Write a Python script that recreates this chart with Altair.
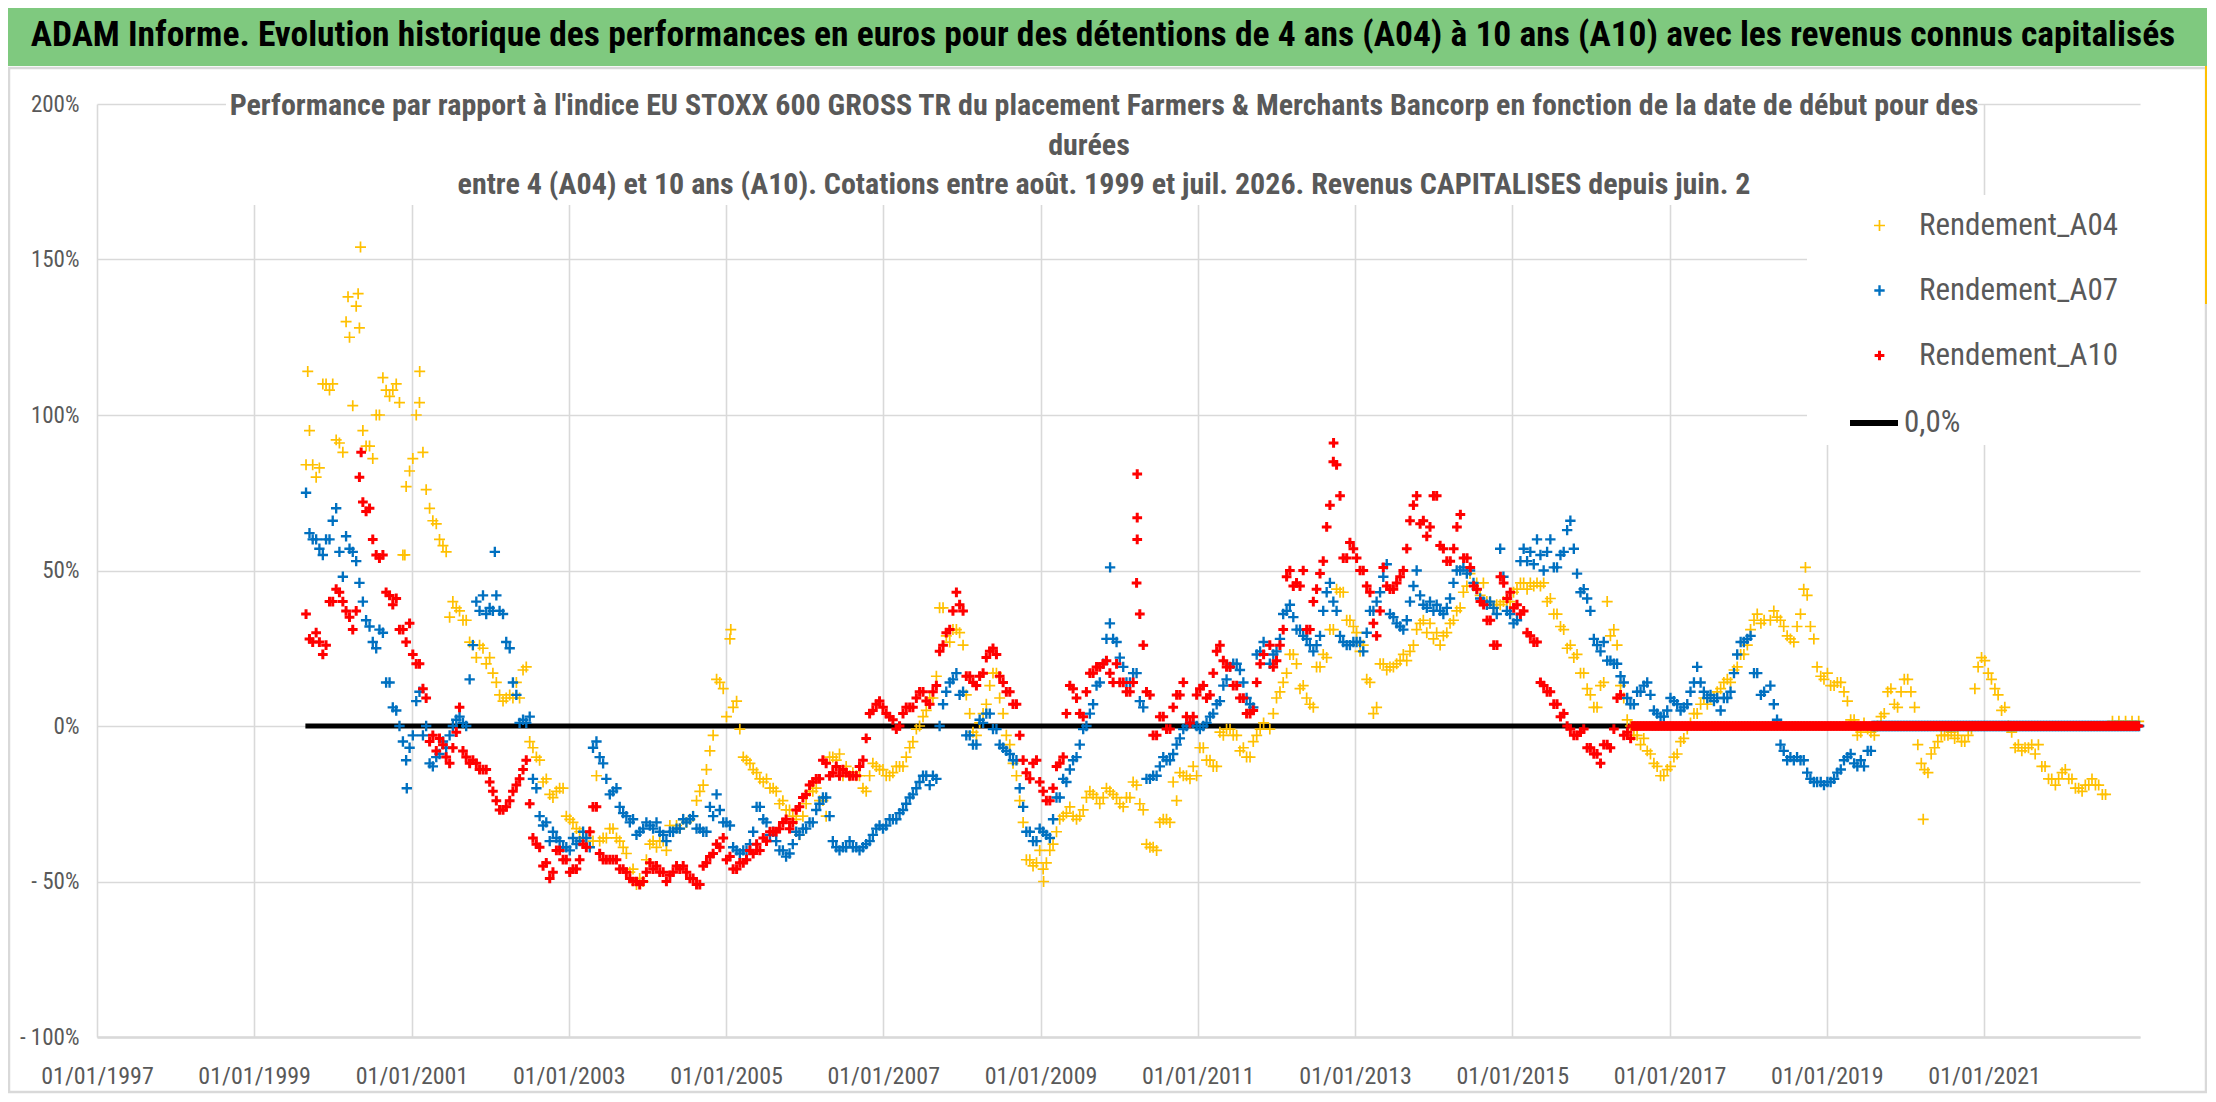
import altair as alt
import pandas as pd
import numpy as np

FONT = "'Liberation Sans Narrow', 'Roboto Condensed', 'Arial Narrow', Lato, sans-serif"
GRAY = "#595959"
GRID = "#D9D9D9"

NAMES = ["Rendement_A04", "Rendement_A07", "Rendement_A10"]
COLORS = ["#FFC000", "#0070C0", "#FF0000"]

# ---- values (in %) ----
# segment 1 : 1999-08-30 -> 2005-08-08
A04_S1 = [84, 84, 83, 110, 110, 91, 130, 103, 128, 90, 86, 100, 108, 108, 104, 77, 86, 104, 76, 66,
          60, 56, 40, 37, 34, 26, 26, 20, 17, 10, 9, 9, 9, 19, -7, -11, -17, -23, -20, -29,
          -31, -34, -36, -37, -37, -36, -33, -37, -41, -46, -49, -43, -37, -37, -40, -34, -33, -31, -29, -21,
          -14, -3, 14, 3, 6, -1, -11, -14, -17, -17, -20]
A07_S1 = [75, 60, 57, 60, 66, 56, 61, 56, 46, 34, 27, 31, 14, 6, 0, -11, -3, 11, 0, -13,
          -9, -7, 0, 3, 0, 26, 37, 36, 37, 37, 27, 14, 1, 1, -17, -29, -31, -34, -37, -39,
          -36, -37, -36, -7, -10, -17, -21, -26, -29, -30, -34, -31, -33, -34, -37, -34, -33, -31, -29, -33,
          -34, -29, -27, -31, -39, -41, -40, -34, -26, -31, -34]
A10_S1 = [36, 27, 27, 26, 40, 43, 37, 31, 80, 69, 60, 54, 43, 39, 31, 27, 23, 20, 9, -3,
          -4, -10, -7, 6, -10, -11, -14, -14, -21, -27, -26, -21, -17, -11, -36, -39, -44, -47, -40, -43,
          -46, -43, -39, -26, -41, -43, -43, -46, -47, -50, -51, -47, -46, -47, -50, -47, -46, -47, -49, -51,
          -44, -41, -39, -43, -46, -44, -43, -41, -40, -37, -34]
# segment 1, in-between readings : 1999-09-15 -> 2005-07-24
A04_S1M = [95, 80, 110, 108, 92, 88, 125, 135, 95, 90, 100, 112, 106, 110, 55, 82, 100, 88, 70, 65,
           58, 35, 38, 34, 27, 22, 25, 22, 14, 8, 10, 14, 18, -5, -10, -18, -22, -21, -20, -30,
           -33, -36, -34, -16, -36, -33, -36, -39, -47, -51, -50, -38, -39, -37, -32, -32, -30, -30, -24, -19,
           -8, 15, 12, 28, 8, -10, -12, -15, -18, -20]
A07_S1M = [62, 60, 55, 60, 70, 48, 57, 53, 40, 32, 25, 30, 14, 5, -5, -7, 8, -3, -12, -10,
           -5, -3, 2, 1, 15, 40, 42, 38, 42, 36, 25, 10, 2, 3, -20, -32, -37, -36, -39, -40,
           -38, -34, -39, -5, -12, -22, -20, -28, -31, -35, -33, -32, -31, -35, -34, -33, -30, -30, -33, -34,
           -26, -22, -31, -32, -40, -40, -38, -26, -30, -35]
A10_S1M = [28, 30, 23, 40, 44, 40, 35, 37, 72, 70, 55, 55, 42, 41, 31, 33, 20, 12, -5, -8,
           -6, -12, -2, -8, -12, -12, -14, -18, -24, -27, -24, -19, -14, -25, -38, -45, -49, -40, -43, -47,
           -46, -38, -34, -26, -43, -43, -43, -46, -49, -50, -50, -44, -45, -47, -48, -45, -45, -49, -51, -45,
           -42, -38, -36, -42, -46, -44, -40, -38, -36, -34]
# segment 2 : 2005-08-22 -> 2011-11-03
A04_S2 = [-21, -24, -27, -30, -29, -21, -20, -24, -10, -11, -16, -16, -16, -20, -16, -13, -14, -16, -13, -13,
          -7, -1, 3, 9, 16, 38, 27, 31, 26, 4, -3, 4, 13, 17, 4, -6, -16, -31, -43, -44,
          -46, -40, -34, -29, -26, -30, -27, -21, -23, -23, -21, -23, -26, -23, -19, -27, -39, -40, -30, -31,
          -24, -16, -17, -16, -7, -11, -13, -3, -1, -3, -7, -10, -3, 1]
A07_S2 = [-37, -40, -41, -34, -33, -31, -27, -23, -29, -39, -39, -37, -39, -39, -37, -33, -33, -30, -30, -27,
          -23, -20, -16, -19, -17, 7, 14, 17, 11, -3, -6, 1, 4, -1, -7, -9, -11, -26, -34, -37,
          -34, -36, -23, -17, -14, -10, -1, 4, 13, 20, 33, 27, 19, 14, 17, 6, -17, -16, -10, -11,
          -6, -1, 1, 0, 0, 3, 7, 13, 19, 20, 14, 7, 23, 27]
A10_S2 = [-34, -31, -33, -27, -23, -19, -17, -11, -16, -13, -14, -16, -16, -11, 4, 7, 6, 3, -1, 4,
          6, 9, 11, 7, 13, 26, 31, 43, 37, 16, 13, 17, 24, 23, 14, 11, 7, -11, -17, -11,
          -21, -24, -13, -10, 13, 9, 3, 17, 19, 20, 17, 20, 14, 11, 46, 26, 10, -3, 3, -1,
          10, 14, 1, 10, 13, 10, 24, 21, 19, 13, 9, 4, 14, 23]
# segment 2, in-between readings : 2005-09-06 -> 2011-10-18
A04_S2M = [-25, -27, -29, -35, -25, -21, -24, -29, -10, -9, -13, -15, -16, -21, -12, -14, -16, -15, -13, -10,
           -5, 0, 5, 9, 38, 29, 31, 30, 10, -2, 1, 7, 17, 9, -3, -12, -24, -43, -45, -40,
           -44, -38, -30, -28, -29, -29, -23, -22, -25, -20, -22, -25, -23, -18, -25, -38, -39, -31, -30, -18,
           -15, -16, -13, -7, -11, -13, -2, -1, -3, -8, -10, -5, -1]
A07_S2M = [-40, -42, -38, -35, -33, -31, -25, -23, -37, -40, -39, -39, -40, -38, -35, -32, -32, -30, -28, -25,
           -22, -18, -16, -16, 0, 11, 15, 10, -3, -6, 2, 4, -1, -6, -8, -11, -20, -34, -37, -33,
           -35, -30, -23, -18, -11, -6, 0, 7, 14, 28, 28, 22, 14, 17, 8, -17, -16, -13, -11, -9,
           -4, 0, 1, -1, 1, 4, 8, 15, 20, 18, 9, 6, 24]
A10_S2M = [-33, -30, -31, -26, -22, -18, -17, -12, -15, -16, -15, -16, -13, -4, 5, 8, 4, 2, 0, 6,
           6, 11, 8, 11, 24, 30, 37, 39, 16, 14, 16, 22, 25, 16, 11, 7, -3, -15, -12, -18,
           -24, -20, -12, 4, 12, 4, 11, 17, 19, 21, 14, 14, 11, 14, 36, 11, -3, 3, -1, 6,
           10, 3, 3, 12, 9, 17, 26, 19, 13, 9, 4, 5, 20]
# segment 3 : 2011-12-02 -> 2018-03-16 (A10 stops 2016-07-04)
A04_S3 = [-1, 9, 14, 23, 20, 13, 7, 19, 23, 31, 44, 43, 34, 30, 26, 14, 6, 20, 19, 20,
          23, 24, 31, 34, 33, 30, 29, 33, 37, 43, 49, 46, 46, 40, 39, 40, 40, 44, 46, 46,
          46, 46, 41, 36, 31, 26, 23, 17, 10, 6, 14, 29, 26, 9, 0, -3, -4, -9, -13, -16,
          -13, -9, -4, 1, 4, 9, 9, 11, 14, 14, 19, 23, 31, 36, 34]
A07_S3 = [20, 24, 36, 39, 31, 29, 26, 26, 37, 46, 37, 27, 26, 27, 24, 37, 40, 48, 36, 33,
          31, 40, 50, 39, 40, 39, 36, 41, 50, 51, 50, 44, 40, 40, 36, 48, 36, 34, 57, 56,
          60, 50, 60, 51, 56, 66, 49, 44, 37, 26, 27, 21, 20, 14, 7, 11, 13, 10, 4, 3,
          9, 7, 6, 11, 19, 11, 10, 9, 9, 11, 23, 27, 29, 17, 11]
A10_S3 = [26, 21, 31, 50, 46, 50, 31, 44, 53, 71, 84, 54, 59, 54, 50, 43, 29, 51, 44, 46,
          50, 66, 74, 66, 64, 74, 57, 53, 64, 54, 51, 44, 39, 34, 26, 46, 43, 39, 37, 29,
          27, 13, 11, 7, 4, -1, -3, -1, -7, -9, -6, -7, 9, -3, -4]
# segment 3, in-between readings : 2011-12-18 -> 2018-03-01 (A10 : -> 2016-06-19)
A04_S3M = [4, 11, 17, 23, 12, 9, 6, 19, 22, 31, 43, 34, 32, 24, 15, 4, 20, 18, 19, 21,
           21, 26, 33, 30, 28, 26, 30, 34, 38, 45, 45, 42, 40, 38, 39, 40, 43, 46, 44, 45,
           45, 40, 36, 32, 25, 22, 17, 12, 6, 13, 40, 31, 13, 2, -3, -6, -8, -12, -16, -14,
           -10, -5, -1, 4, 7, 7, 9, 12, 15, 18, 23, 26, 34, 33]
A07_S3M = [23, 28, 37, 35, 31, 28, 24, 29, 43, 40, 29, 26, 27, 27, 30, 37, 43, 52, 35, 32,
           34, 45, 42, 38, 37, 37, 38, 46, 50, 49, 46, 41, 39, 38, 57, 37, 33, 53, 53, 52,
           55, 56, 51, 55, 63, 57, 43, 41, 28, 24, 21, 20, 16, 9, 7, 11, 14, 5, 3, 5,
           8, 5, 7, 14, 14, 9, 8, 5, 9, 17, 27, 28, 17, 10]
A10_S3M = [19, 26, 48, 45, 45, 31, 40, 49, 64, 85, 74, 54, 57, 50, 45, 33, 37, 45, 44, 48,
           57, 71, 65, 61, 74, 58, 53, 57, 68, 54, 45, 40, 34, 26, 48, 41, 38, 36, 30, 27,
           14, 11, 7, 3, 0, -3, -2, -7, -9, -12, -6, -1, 10, -2]
# segment 4 : 2018-04-14 -> 2022-07-19 (A07 stops 2019-07-25)
A04_S4 = [34, 35, 32, 28, 32, 44, 32, 19, 15, 13, 14, 11, 2, -3, 1, -2, 0, 4, 12, 6,
          15, 11, -6, -14, -9, -5, -3, -2, -3, -5, -1, 19, 21, 15, 10, 6, -2, -6, -7, -6,
          -6, -13, -17, -17, -14, -17, -20, -19, -17, -19, -22]
A07_S4 = [13, 2, -8, -10, -10, -11, -17, -18, -19, -18, -15, -11, -9, -13, -13, -8]
# segment 4, in-between readings : 2018-04-30 -> 2022-07-04 (A07 : -> 2019-07-10)
A04_S4M = [37, 34, 29, 27, 36, 42, 28, 16, 17, 13, 14, 8, 2, -2, -1, -3, 3, 11, 7, 11,
           15, 6, -12, -15, -7, -3, -3, -4, -5, -3, 12, 22, 17, 12, 5, 0, -7, -8, -7, -9,
           -13, -17, -19, -15, -17, -20, -21, -19, -19, -22]
A07_S4M = [7, -6, -11, -11, -11, -15, -18, -18, -18, -17, -14, -10, -12, -11, -8]
A04_TAIL = [1.5, 1.5, 1.5, 1.5, 1.5]

# isolated points
OUT_A04 = [("1999-09-07", 114), ("2000-03-12", 138), ("2000-04-28", 139), ("2000-05-09", 154),
           ("2000-12-01", 55), ("2001-02-08", 114), ("2005-01-23", 31), ("2009-01-15", -50),
           ("2018-09-24", 51), ("2020-03-24", -30)]
OUT_A07 = [("2000-12-10", -20), ("2002-01-23", 56), ("2009-11-20", 51)]
OUT_A10 = [("2000-05-12", 88), ("2010-03-26", 81), ("2010-03-26", 67), ("2010-03-26", 60),
           ("2012-09-23", 91)]

SEG = {
    "S1": ("1999-08-30", "2005-08-08"),
    "S1M": ("1999-09-15", "2005-07-24"),
    "S2": ("2005-08-22", "2011-11-03"),
    "S2M": ("2005-09-06", "2011-10-18"),
    "S3": ("2011-12-02", "2018-03-16"),
    "S3M": ("2011-12-18", "2018-03-01"),
    "S3_A10": ("2011-12-02", "2016-07-04"),
    "S3M_A10": ("2011-12-18", "2016-06-19"),
    "S4": ("2018-04-14", "2022-07-19"),
    "S4M": ("2018-04-30", "2022-07-04"),
    "S4_A07": ("2018-04-14", "2019-07-25"),
    "S4M_A07": ("2018-04-30", "2019-07-10"),
    "TAIL": ("2022-08-20", "2022-12-20"),
}

ZERO_LINE_DATES = ["1999-08-27", "2022-12-26"]
ZERO_A10 = ("2016-07-11", "2022-12-24")
ZERO_A07 = ("2019-08-01", "2022-12-24")


def seg_dates(key, n):
    a, b = SEG[key]
    ts = np.linspace(pd.Timestamp(a).value, pd.Timestamp(b).value, n)
    return list(pd.to_datetime(ts).strftime("%Y-%m-%d"))


rows = []


def add(series, key, values):
    for d, v in zip(seg_dates(key, len(values)), values):
        rows.append({"date": d, "value": v, "series": series})


def add_pts(series, pts):
    for d, v in pts:
        rows.append({"date": d, "value": v, "series": series})


def add_zero(series, span):
    for d in pd.date_range(span[0], span[1], freq="7D").strftime("%Y-%m-%d"):
        rows.append({"date": d, "value": 0, "series": series})


for key, vals in [("S1", A04_S1), ("S1M", A04_S1M), ("S2", A04_S2), ("S2M", A04_S2M),
                  ("S3", A04_S3), ("S3M", A04_S3M), ("S4", A04_S4), ("S4M", A04_S4M), ("TAIL", A04_TAIL)]:
    add(NAMES[0], key, vals)
add_pts(NAMES[0], OUT_A04)
for key, vals in [("S1", A07_S1), ("S1M", A07_S1M), ("S2", A07_S2), ("S2M", A07_S2M),
                  ("S3", A07_S3), ("S3M", A07_S3M), ("S4_A07", A07_S4), ("S4M_A07", A07_S4M)]:
    add(NAMES[1], key, vals)
add_pts(NAMES[1], OUT_A07)
add_zero(NAMES[1], ZERO_A07)
for key, vals in [("S1", A10_S1), ("S1M", A10_S1M), ("S2", A10_S2), ("S2M", A10_S2M),
                  ("S3_A10", A10_S3), ("S3M_A10", A10_S3M)]:
    add(NAMES[2], key, vals)
add_pts(NAMES[2], OUT_A10)
add_zero(NAMES[2], ZERO_A10)

df = pd.DataFrame(rows)
zero_df = pd.DataFrame({"date": ZERO_LINE_DATES, "value": [0, 0], "label": ["0,0%", "0,0%"]})
one = pd.DataFrame({"a": [0]})

W, H = 2043, 933
PAD = {"left": 89, "top": 96, "right": 67, "bottom": 57}

xscale = alt.Scale(type="utc", domain=[alt.DateTime(year=1997, month=1, date=1, utc=True),
                                       alt.DateTime(year=2022, month=12, date=26, utc=True)], nice=False)
xaxis = alt.Axis(values=[alt.DateTime(year=y, month=1, date=1, utc=True) for y in range(1997, 2022, 2)],
                 format="%d/%m/%Y", labelAngle=0, labelFontSize=24, labelPadding=27, ticks=False,
                 domainColor=GRID, domainWidth=2.5, grid=True, labelFlush=False, title=None)
yscale = alt.Scale(domain=[-100, 200], nice=False)
yaxis = alt.Axis(values=[-100, -50, 0, 50, 100, 150, 200],
                 labelExpr="datum.value < 0 ? '- ' + (-datum.value) + '%' : datum.value + '%'",
                 labelFontSize=23, labelPadding=18, ticks=False, domain=False, grid=True,
                 labelFlush=False, title=None)

CROSS = "M-1,0L1,0M0,-1L0,1"

zero_line = alt.Chart(zero_df).mark_line(strokeWidth=5).encode(
    x=alt.X("date:T", scale=xscale, axis=xaxis),
    y=alt.Y("value:Q", scale=yscale, axis=yaxis),
    stroke=alt.Stroke("label:N", scale=alt.Scale(domain=["0,0%"], range=["#000000"]),
                      legend=alt.Legend(title=None, orient="none", legendX=1750, legendY=292,
                                        symbolType="stroke", symbolSize=2304, symbolStrokeWidth=6,
                                        labelFont=FONT, labelFontSize=31, labelColor=GRAY,
                                        labelLimit=0, labelOffset=3, padding=0)),
)

points = alt.Chart(df).mark_point(shape=CROSS, filled=False, opacity=1).encode(
    x=alt.X("date:T", scale=xscale, axis=xaxis),
    y=alt.Y("value:Q", scale=yscale, axis=yaxis),
    color=alt.Color("series:N", scale=alt.Scale(domain=NAMES, range=COLORS),
                    legend=alt.Legend(title=None, orient="none", legendX=1767, legendY=106,
                                      symbolType=CROSS, symbolSize=81, symbolStrokeWidth=2,
                                      labelFont=FONT, labelFontSize=31, labelColor=GRAY,
                                      labelLimit=0, labelOffset=24, rowPadding=33, padding=0)),
    strokeWidth=alt.StrokeWidth("series:N", scale=alt.Scale(domain=NAMES, range=[1.7, 3.0, 3.0]), legend=None),
    size=alt.Size("series:N", scale=alt.Scale(domain=NAMES, range=[120, 95, 95]), legend=None),
)

banner = alt.Chart(one).mark_rect(color="#7FC97F").encode(
    x=alt.value(-89), x2=alt.value(2111), y=alt.value(-96), y2=alt.value(-38))
border = alt.Chart(one).mark_rect(fillOpacity=0, stroke=GRID, strokeWidth=2.5).encode(
    x=alt.value(-88), x2=alt.value(2109), y=alt.value(-36), y2=alt.value(988))
sub_box = alt.Chart(one).mark_rect(color="white").encode(
    x=alt.value(129), x2=alt.value(1881), y=alt.value(-2), y2=alt.value(101))
leg_box = alt.Chart(one).mark_rect(color="white").encode(
    x=alt.value(1710), x2=alt.value(2050), y=alt.value(91), y2=alt.value(341))
handle = alt.Chart(one).mark_rect(color="#FFC000").encode(
    x=alt.value(2108), x2=alt.value(2111), y=alt.value(-38), y2=alt.value(200))

TITLE = ("ADAM Informe. Evolution historique des performances en euros pour des détentions "
         "de 4 ans (A04) à 10 ans (A10) avec les revenus connus capitalisés")
SUB1 = ("Performance par rapport à l'indice EU STOXX 600 GROSS TR  du placement Farmers & Merchants "
        "Bancorp en fonction de la date de début pour des")
SUB2 = "durées"
SUB3 = ("entre 4 (A04) et 10 ans (A10). Cotations entre août. 1999 et juil. 2026. "
        "Revenus CAPITALISES depuis juin. 2")

title = alt.Chart(one).mark_text(text=TITLE, font=FONT, fontSize=35.5, fontWeight="bold", color="#000000",
                                 align="center", baseline="middle").encode(
    x=alt.value(1006), y=alt.value(-69))


def sub(txt, xv, yv):
    return alt.Chart(one).mark_text(text=txt, font=FONT, fontSize=30, fontWeight="bold", color=GRAY,
                                    align="center", baseline="middle").encode(
        x=alt.value(xv), y=alt.value(yv))


chart = alt.layer(
    zero_line, points, banner, border, handle, sub_box, leg_box, title,
    sub(SUB1, 1007, 2), sub(SUB2, 992, 42), sub(SUB3, 1007, 81),
).properties(
    width=W, height=H, padding=PAD, autosize=alt.AutoSizeParams(type="none"), background="white",
).configure_view(strokeWidth=0).configure_axis(
    labelFont=FONT, labelColor=GRAY, gridColor=GRID, gridWidth=1.6,
)

chart.save("out.html", embed_options={"renderer": "svg", "actions": False})
